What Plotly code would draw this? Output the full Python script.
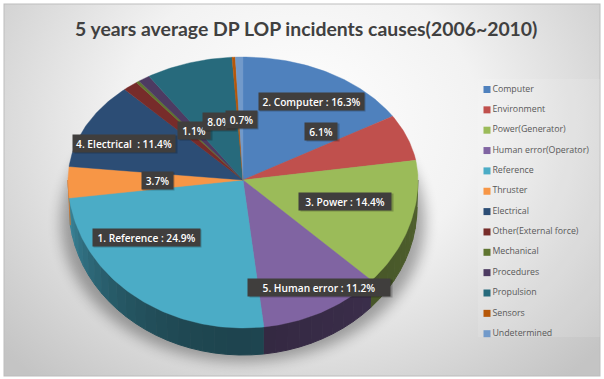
import numpy as np
import plotly.graph_objects as go
from urllib.parse import quote

title = "5 years average DP LOP incidents causes(2006~2010)"
categories = ["Computer", "Environment", "Power(Generator)", "Human error(Operator)", "Reference",
              "Thruster", "Electrical", "Other(External force)", "Mechanical", "Procedures",
              "Propulsion", "Sensors", "Undetermined"]
values = [16.3, 6.1, 14.4, 11.2, 24.9, 3.7, 11.4, 1.4, 0.3, 1.1, 8.0, 0.3, 0.7]
colors = ["#4f81bd", "#c0504d", "#9bbb59", "#8064a2", "#4bacc6", "#f79646", "#2c4d75",
          "#772c2a", "#5f7530", "#4d3b62", "#276a7c", "#b65708", "#729aca"]
label_texts = ["2. Computer : 16.3%", "6.1%", "3. Power : 14.4%", "5. Human error : 11.2%",
               "1. Reference : 24.9%", "3.7%", "4. Electrical  : 11.4%", "1.1%", "8.0%", "0.7%"]
label_x = [311, 321, 345, 319, 146, 157, 124, 194, 219, 241]
label_y = [101, 131, 201, 287, 237, 180, 143, 130, 121, 119]
label_w = [105, 32, 92, 142, 107, 31, 102, 32, 32, 31]

CX, CY, RX, RY_TOP, RY_BOT, DEPTH = 243, 180, 175, 123, 148, 27


def ellipse(t, dy=0.0, rx=RX):
    c = np.cos(t)
    x = CX + rx * np.sin(t)
    y = CY + dy - np.where(c > 0, RY_TOP, RY_BOT) * c
    return x, y


def shade(hex_color, f):
    r, g, b = (int(hex_color[i:i + 2], 16) for i in (1, 3, 5))
    return f"rgb({int(r * f)},{int(g * f)},{int(b * f)})"


bg = f"""<svg xmlns='http://www.w3.org/2000/svg' width='604' height='379'>
<defs><radialGradient id='g' gradientUnits='userSpaceOnUse' cx='300' cy='110' r='400'
 gradientTransform='translate(0 30) scale(1 .85)'>
<stop offset='0' stop-color='#ffffff'/><stop offset='.45' stop-color='#f2f2f2'/>
<stop offset='1' stop-color='#c4c4c4'/></radialGradient>
<filter id='b' x='-20%' y='-20%' width='140%' height='140%'><feGaussianBlur stdDeviation='7'/></filter></defs>
<rect width='604' height='379' fill='#ffffff'/>
<rect x='4' y='4' width='596' height='372' fill='url(#g)' stroke='#bdbdbd'/>
<rect x='478' y='79' width='122' height='258' fill='#ffffff' opacity='.12'/>
<ellipse cx='243' cy='222' rx='182' ry='140' fill='#000000' opacity='.32' filter='url(#b)'/>
</svg>"""

fig = go.Figure()

fractions = np.array(values) / sum(values)
edges = np.concatenate([[0], np.cumsum(fractions)]) * 2 * np.pi

# extruded side, drawn in thin bands for the shading
for i, color in enumerate(colors):
    a0, a1 = max(edges[i], np.pi / 2), min(edges[i + 1], 1.5 * np.pi)
    if a1 <= a0:
        continue
    bands = max(1, int((a1 - a0) / np.radians(4)))
    steps = np.linspace(a0, a1, bands + 1)
    for s0, s1 in zip(steps[:-1], steps[1:]):
        t = np.linspace(s0, s1, 4)
        xt, yt = ellipse(t)
        xb, yb = ellipse(t[::-1], dy=DEPTH, rx=RX - 1)
        mid = (s0 + s1) / 2 - np.pi
        f = 0.40 + 0.45 * (mid / (np.pi / 2)) ** 2 if mid > 0 else 0.40 + 0.12 * abs(mid) / (np.pi / 2)
        c = shade(color, f)
        fig.add_trace(go.Scatter(x=np.r_[xt, xb], y=np.r_[yt, yb], mode="lines", fill="toself",
                                 fillcolor=c, line=dict(color=c, width=1),
                                 hoverinfo="skip", showlegend=False))

# top face
for i, (name, color) in enumerate(zip(categories, colors)):
    t = np.linspace(edges[i], edges[i + 1], max(3, int((edges[i + 1] - edges[i]) * 60)))
    x, y = ellipse(t)
    fig.add_trace(go.Scatter(x=np.r_[CX, x, CX], y=np.r_[CY, y, CY], mode="lines", fill="toself",
                             fillcolor=color, line=dict(color=color, width=0.4),
                             name=name, hoverinfo="name", showlegend=False))

# legend column
rows = [89.5 + 20.35 * i for i in range(len(categories))]
fig.add_trace(go.Scatter(x=[487] * len(categories), y=rows, mode="markers+text",
                         marker=dict(symbol="square", size=7, color=colors),
                         text=categories, textposition="middle right",
                         textfont=dict(family="Open Sans", size=8.8, color="#595959"),
                         hoverinfo="skip", showlegend=False))

for txt, x, y, w in zip(label_texts, label_x, label_y, label_w):
    fig.add_annotation(x=x + 1.5, y=y + 1.5, xref="x", yref="y", text=" ", showarrow=False,
                       width=w, height=17, bgcolor="rgba(0,0,0,0.22)", borderpad=0)
    fig.add_annotation(x=x, y=y, xref="x", yref="y", text=txt, showarrow=False,
                       width=w, height=17, bgcolor="#403e3d", borderpad=0, align="center",
                       font=dict(family="Open Sans", size=10.2, color="#ffffff", weight=600))

fig.update_layout(
    width=604, height=379, autosize=False,
    margin=dict(l=0, r=0, t=0, b=0),
    title=dict(text=title, x=0.507, xanchor="center", y=0.923, yanchor="middle",
               font=dict(family="Lato", size=19.4, color="#404040", weight="bold")),
    paper_bgcolor="white", plot_bgcolor="rgba(0,0,0,0)",
    xaxis=dict(range=[0, 604], visible=False, fixedrange=True),
    yaxis=dict(range=[379, 0], visible=False, fixedrange=True),
    images=[dict(source="data:image/svg+xml;charset=utf-8," + quote(bg), xref="paper", yref="paper",
                 x=0, y=1, sizex=1, sizey=1, sizing="stretch", xanchor="left", yanchor="top", layer="below")],
)
fig.write_html("out.html", config={"displayModeBar": False, "responsive": False},
               post_script="document.body.style.margin='0';document.documentElement.style.overflow='hidden';")
